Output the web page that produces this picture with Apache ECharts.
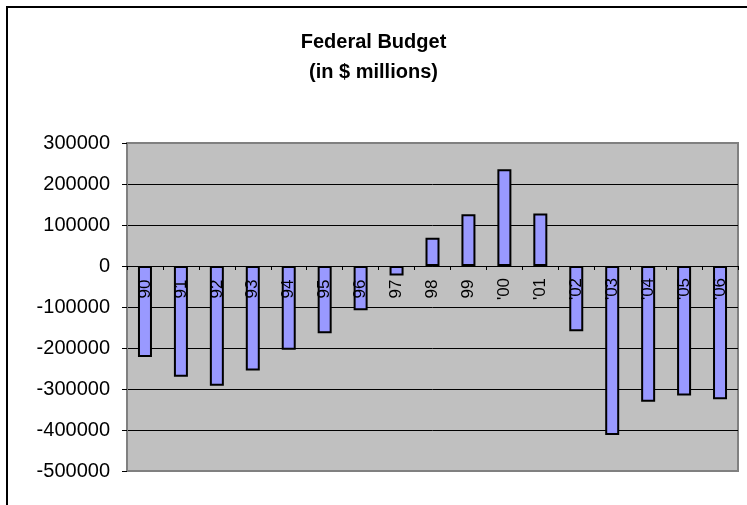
<!DOCTYPE html>
<html>
<head>
<meta charset="utf-8">
<script src="https://cdn.jsdelivr.net/npm/echarts@6/dist/echarts.min.js"></script>
<style>
html,body{margin:0;padding:0;background:#fff;}
#chart{width:747px;height:505px;}
</style>
</head>
<body>
<div id="chart"></div>
<script>
const categories = ["90","91","92","93","94","95","96","97","98","99","'00","'01","'02","'03","'04","'05","'06"];
const budgetValues = [-222000,-270000,-292000,-255000,-204000,-164000,-108000,-23000,69000,126000,236000,128000,-159000,-412000,-331000,-316000,-325000];
const yTicks = { min: -500000, max: 300000, interval: 100000 };
const titleLines = ["Federal Budget", "(in $ millions)"];

const chart = echarts.init(document.getElementById('chart'), null, {renderer: 'canvas'});
const font = '"Liberation Sans", Arial, sans-serif';
const gridTop = 143, gridBottom = 34, chartH = 505;
const plotH = chartH - gridTop - gridBottom;
// place the category axis at the value 0 (shift from bottom edge)
const zeroOffset = -plotH * (0 - yTicks.min) / (yTicks.max - yTicks.min);

chart.setOption({
  animation: false,
  backgroundColor: '#ffffff',
  graphic: [{
    type: 'rect',
    shape: {x: 7, y: 7, width: 800, height: 600},
    style: {fill: 'none', stroke: '#000', lineWidth: 2},
    silent: true
  }],
  title: {
    text: titleLines.join('\n'),
    left: 'center',
    top: 22,
    textStyle: {fontFamily: font, fontSize: 20, fontWeight: 'bold', color: '#000', lineHeight: 30}
  },
  grid: {
    left: 127, right: 9, top: gridTop, bottom: gridBottom,
    show: true, backgroundColor: '#C0C0C0', borderColor: '#808080', borderWidth: 2
  },
  xAxis: {
    type: 'category',
    data: categories,
    z: 5,
    offset: zeroOffset,
    axisLine: {onZero: false, lineStyle: {color: '#000', width: 1}},
    axisTick: {show: true, inside: false, length: 4, alignWithLabel: false, lineStyle: {color: '#000'}},
    axisLabel: {rotate: 90, align: 'center', margin: 23, fontFamily: font, fontSize: 17, color: '#000', interval: 0},
    splitLine: {show: false}
  },
  yAxis: {
    type: 'value',
    min: yTicks.min, max: yTicks.max, interval: yTicks.interval,
    axisLine: {show: true, lineStyle: {color: '#808080', width: 2}},
    axisTick: {show: true, inside: false, length: 5, lineStyle: {color: '#000'}},
    axisLabel: {margin: 17, fontFamily: font, fontSize: 20, color: '#000', formatter: v => String(v)},
    splitLine: {show: true, showMinLine: false, showMaxLine: false, lineStyle: {color: '#000', width: 1}}
  },
  series: [{
    type: 'bar',
    data: budgetValues,
    barWidth: 14,
    itemStyle: {color: '#9999FF', borderColor: '#000', borderWidth: 2}
  }]
});
</script>
</body>
</html>
